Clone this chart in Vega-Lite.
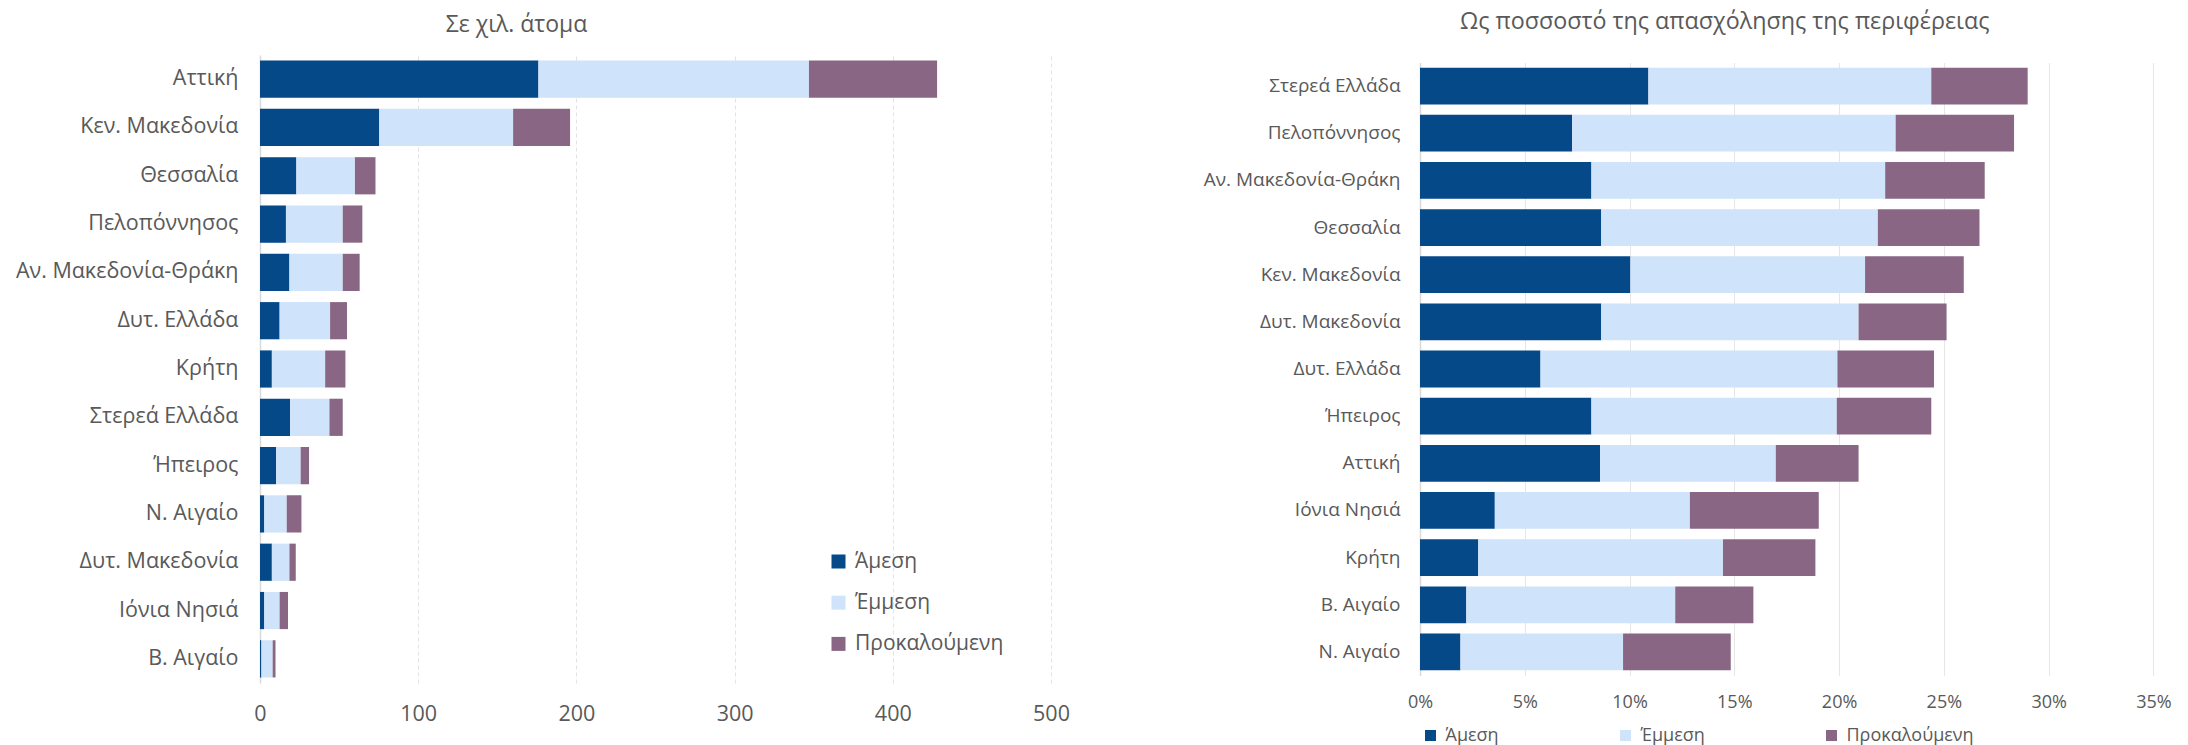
{
  "$schema": "https://vega.github.io/schema/vega-lite/v6.json",
  "autosize": {"type": "pad"},
  "padding": {"left": 15, "top": 10, "right": 0, "bottom": 4},
  "spacing": 369,
  "bounds": "flush",
  "center": true,
  "background": "white",
  "config": {
    "font": "Open Sans",
    "view": {"stroke": null},
    "axis": {"labelColor": "#595959", "titleColor": "#595959", "labelLimit": 400},
    "legend": {"padding": 0, "titlePadding": 0, "labelLimit": 400}
  },
  "datasets": {
    "abs": [
      {"region": "Αττική", "type": "Άμεση", "value": 176},
      {"region": "Αττική", "type": "Έμμεση", "value": 171},
      {"region": "Αττική", "type": "Προκαλούμενη", "value": 81},
      {"region": "Κεν. Μακεδονία", "type": "Άμεση", "value": 75.4},
      {"region": "Κεν. Μακεδονία", "type": "Έμμεση", "value": 84.6},
      {"region": "Κεν. Μακεδονία", "type": "Προκαλούμενη", "value": 36},
      {"region": "Θεσσαλία", "type": "Άμεση", "value": 23},
      {"region": "Θεσσαλία", "type": "Έμμεση", "value": 37},
      {"region": "Θεσσαλία", "type": "Προκαλούμενη", "value": 13},
      {"region": "Πελοπόννησος", "type": "Άμεση", "value": 16.4},
      {"region": "Πελοπόννησος", "type": "Έμμεση", "value": 35.9},
      {"region": "Πελοπόννησος", "type": "Προκαλούμενη", "value": 12.4},
      {"region": "Αν. Μακεδονία-Θράκη", "type": "Άμεση", "value": 18.6},
      {"region": "Αν. Μακεδονία-Θράκη", "type": "Έμμεση", "value": 33.7},
      {"region": "Αν. Μακεδονία-Θράκη", "type": "Προκαλούμενη", "value": 10.7},
      {"region": "Δυτ. Ελλάδα", "type": "Άμεση", "value": 12.4},
      {"region": "Δυτ. Ελλάδα", "type": "Έμμεση", "value": 31.9},
      {"region": "Δυτ. Ελλάδα", "type": "Προκαλούμενη", "value": 10.7},
      {"region": "Κρήτη", "type": "Άμεση", "value": 7.5},
      {"region": "Κρήτη", "type": "Έμμεση", "value": 33.7},
      {"region": "Κρήτη", "type": "Προκαλούμενη", "value": 12.8},
      {"region": "Στερεά Ελλάδα", "type": "Άμεση", "value": 19},
      {"region": "Στερεά Ελλάδα", "type": "Έμμεση", "value": 24.9},
      {"region": "Στερεά Ελλάδα", "type": "Προκαλούμενη", "value": 8.4},
      {"region": "Ήπειρος", "type": "Άμεση", "value": 10.2},
      {"region": "Ήπειρος", "type": "Έμμεση", "value": 15.5},
      {"region": "Ήπειρος", "type": "Προκαλούμενη", "value": 5.3},
      {"region": "Ν. Αιγαίο", "type": "Άμεση", "value": 2.7},
      {"region": "Ν. Αιγαίο", "type": "Έμμεση", "value": 14.2},
      {"region": "Ν. Αιγαίο", "type": "Προκαλούμενη", "value": 9.3},
      {"region": "Δυτ. Μακεδονία", "type": "Άμεση", "value": 7.5},
      {"region": "Δυτ. Μακεδονία", "type": "Έμμεση", "value": 11.1},
      {"region": "Δυτ. Μακεδονία", "type": "Προκαλούμενη", "value": 4},
      {"region": "Ιόνια Νησιά", "type": "Άμεση", "value": 2.7},
      {"region": "Ιόνια Νησιά", "type": "Έμμεση", "value": 9.7},
      {"region": "Ιόνια Νησιά", "type": "Προκαλούμενη", "value": 5.3},
      {"region": "Β. Αιγαίο", "type": "Άμεση", "value": 0.9},
      {"region": "Β. Αιγαίο", "type": "Έμμεση", "value": 7.1},
      {"region": "Β. Αιγαίο", "type": "Προκαλούμενη", "value": 1.8}
    ],
    "pct": [
      {"region": "Στερεά Ελλάδα", "type": "Άμεση", "value": 0.109},
      {"region": "Στερεά Ελλάδα", "type": "Έμμεση", "value": 0.135},
      {"region": "Στερεά Ελλάδα", "type": "Προκαλούμενη", "value": 0.046},
      {"region": "Πελοπόννησος", "type": "Άμεση", "value": 0.0726},
      {"region": "Πελοπόννησος", "type": "Έμμεση", "value": 0.1544},
      {"region": "Πελοπόννησος", "type": "Προκαλούμενη", "value": 0.0565},
      {"region": "Αν. Μακεδονία-Θράκη", "type": "Άμεση", "value": 0.0818},
      {"region": "Αν. Μακεδονία-Θράκη", "type": "Έμμεση", "value": 0.1402},
      {"region": "Αν. Μακεδονία-Θράκη", "type": "Προκαλούμενη", "value": 0.0475},
      {"region": "Θεσσαλία", "type": "Άμεση", "value": 0.0865},
      {"region": "Θεσσαλία", "type": "Έμμεση", "value": 0.132},
      {"region": "Θεσσαλία", "type": "Προκαλούμενη", "value": 0.0485},
      {"region": "Κεν. Μακεδονία", "type": "Άμεση", "value": 0.1004},
      {"region": "Κεν. Μακεδονία", "type": "Έμμεση", "value": 0.112},
      {"region": "Κεν. Μακεδονία", "type": "Προκαλούμενη", "value": 0.0471},
      {"region": "Δυτ. Μακεδονία", "type": "Άμεση", "value": 0.0865},
      {"region": "Δυτ. Μακεδονία", "type": "Έμμεση", "value": 0.1228},
      {"region": "Δυτ. Μακεδονία", "type": "Προκαλούμενη", "value": 0.042},
      {"region": "Δυτ. Ελλάδα", "type": "Άμεση", "value": 0.0575},
      {"region": "Δυτ. Ελλάδα", "type": "Έμμεση", "value": 0.1417},
      {"region": "Δυτ. Ελλάδα", "type": "Προκαλούμενη", "value": 0.0461},
      {"region": "Ήπειρος", "type": "Άμεση", "value": 0.0818},
      {"region": "Ήπειρος", "type": "Έμμεση", "value": 0.1171},
      {"region": "Ήπειρος", "type": "Προκαλούμενη", "value": 0.0451},
      {"region": "Αττική", "type": "Άμεση", "value": 0.0859},
      {"region": "Αττική", "type": "Έμμεση", "value": 0.0839},
      {"region": "Αττική", "type": "Προκαλούμενη", "value": 0.0395},
      {"region": "Ιόνια Νησιά", "type": "Άμεση", "value": 0.0357},
      {"region": "Ιόνια Νησιά", "type": "Έμμεση", "value": 0.0931},
      {"region": "Ιόνια Νησιά", "type": "Προκαλούμενη", "value": 0.0615},
      {"region": "Κρήτη", "type": "Άμεση", "value": 0.0278},
      {"region": "Κρήτη", "type": "Έμμεση", "value": 0.1168},
      {"region": "Κρήτη", "type": "Προκαλούμενη", "value": 0.0441},
      {"region": "Β. Αιγαίο", "type": "Άμεση", "value": 0.0221},
      {"region": "Β. Αιγαίο", "type": "Έμμεση", "value": 0.0997},
      {"region": "Β. Αιγαίο", "type": "Προκαλούμενη", "value": 0.0373},
      {"region": "Ν. Αιγαίο", "type": "Άμεση", "value": 0.0193},
      {"region": "Ν. Αιγαίο", "type": "Έμμεση", "value": 0.0776},
      {"region": "Ν. Αιγαίο", "type": "Προκαλούμενη", "value": 0.0514}
    ]
  },
  "hconcat": [
    {
      "data": {"name": "abs"},
      "width": 791,
      "height": 628,
      "title": {"text": "Σε χιλ. άτομα", "fontSize": 23, "fontWeight": "normal", "color": "#595959", "anchor": "middle", "frame": "group", "dx": -139, "baseline": "middle", "offset": 7},
      "mark": {"type": "bar"},
      "encoding": {
        "y": {
          "field": "region", "type": "nominal",
          "sort": ["Αττική", "Κεν. Μακεδονία", "Θεσσαλία", "Πελοπόννησος", "Αν. Μακεδονία-Θράκη", "Δυτ. Ελλάδα", "Κρήτη", "Στερεά Ελλάδα", "Ήπειρος", "Ν. Αιγαίο", "Δυτ. Μακεδονία", "Ιόνια Νησιά", "Β. Αιγαίο"],
          "scale": {"paddingInner": 0.23, "paddingOuter": 0.115},
          "axis": {"title": null, "ticks": false, "domain": true, "domainColor": "#d9d9d9", "domainWidth": 1.5, "labelFontSize": 21.5, "labelPadding": 22, "labelColor": "#595959"}
        },
        "x": {
          "field": "value", "type": "quantitative", "stack": "zero",
          "scale": {"domain": [0, 500]},
          "axis": {"title": null, "values": [0, 100, 200, 300, 400, 500], "labelFlush": false, "domain": false, "ticks": false, "grid": true, "gridColor": "#e3e3e3", "gridDash": [4, 3], "labelFontSize": 21.5, "labelPadding": 20, "labelColor": "#595959"}
        },
        "color": {
          "field": "type", "type": "nominal",
          "sort": ["Άμεση", "Έμμεση", "Προκαλούμενη"],
          "scale": {"domain": ["Άμεση", "Έμμεση", "Προκαλούμενη"], "range": ["#054988", "#cfe3fa", "#896784"]},
          "legend": {"title": null, "orient": "none", "legendX": 568, "legendY": 496, "direction": "vertical", "symbolType": "square", "symbolSize": 196, "symbolStrokeWidth": 0, "labelFontSize": 21, "labelColor": "#595959", "labelOffset": 6, "rowPadding": 19.2}
        },
        "order": {"field": "type", "sort": "ascending"}
      }
    },
    {
      "data": {"name": "pct"},
      "width": 733.4,
      "height": 613,
      "title": {"text": "Ως ποσσοστό της απασχόλησης της περιφέρειας", "fontSize": 23.3, "fontWeight": "normal", "color": "#595959", "anchor": "middle", "frame": "group", "dx": -62, "baseline": "middle", "offset": 17},
      "mark": {"type": "bar"},
      "encoding": {
        "y": {
          "field": "region", "type": "nominal",
          "sort": ["Στερεά Ελλάδα", "Πελοπόννησος", "Αν. Μακεδονία-Θράκη", "Θεσσαλία", "Κεν. Μακεδονία", "Δυτ. Μακεδονία", "Δυτ. Ελλάδα", "Ήπειρος", "Αττική", "Ιόνια Νησιά", "Κρήτη", "Β. Αιγαίο", "Ν. Αιγαίο"],
          "scale": {"paddingInner": 0.22, "paddingOuter": 0.11},
          "axis": {"title": null, "ticks": false, "domain": true, "domainColor": "#d9d9d9", "domainWidth": 1.5, "labelFontSize": 19, "labelPadding": 20, "labelColor": "#595959"}
        },
        "x": {
          "field": "value", "type": "quantitative", "stack": "zero",
          "scale": {"domain": [0, 0.35]},
          "axis": {"title": null, "values": [0, 0.05, 0.1, 0.15, 0.2, 0.25, 0.3, 0.35], "format": ".0%", "labelFlush": false, "domain": false, "ticks": false, "grid": true, "gridColor": "#e6e6e6", "labelFontSize": 18, "labelPadding": 18, "labelColor": "#595959"}
        },
        "color": {
          "field": "type", "type": "nominal",
          "sort": ["Άμεση", "Έμμεση", "Προκαλούμενη"],
          "scale": {"domain": ["Άμεση", "Έμμεση", "Προκαλούμενη"], "range": ["#054988", "#cfe3fa", "#896784"]},
          "legend": {"title": null, "orient": "none", "legendX": 1.5, "legendY": 664, "direction": "horizontal", "symbolType": "square", "symbolSize": 121, "symbolStrokeWidth": 0, "labelFontSize": 18, "labelColor": "#595959", "labelOffset": 6, "columnPadding": 117}
        },
        "order": {"field": "type", "sort": "ascending"}
      }
    }
  ],
  "resolve": {"scale": {"color": "independent"}, "legend": {"color": "independent"}}
}
